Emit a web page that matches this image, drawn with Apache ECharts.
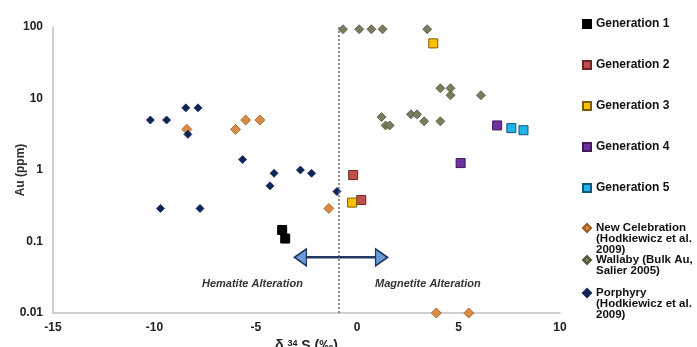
<!DOCTYPE html>
<html lang="en">
  <head>
    <meta charset="UTF-8" />
    <title>Au vs d34S</title>
    <script src="https://cdn.jsdelivr.net/npm/echarts@6/dist/echarts.min.js"></script>
    <style>
      body { margin: 0; background: #fff; }
    </style>
  </head>
  <body>
    <div id="main" style="width: 697px; height: 347px"></div>
    <script>
      // [d34S, Au ppm]
      const gen1 = [[-3.7, 0.145], [-3.55, 0.11]];
      const gen2 = [[-0.2, 0.85], [0.2, 0.38]];
      const gen3 = [[3.75, 59], [-0.25, 0.35]];
      const gen4 = [[6.9, 4.2], [5.1, 1.25]];
      const gen5 = [[7.6, 3.85], [8.2, 3.6]];
      const newCelebration = [[-8.4, 3.7], [-6.0, 3.7], [-5.5, 5.0], [-4.8, 5.0], [-1.4, 0.29], [3.9, 0.01], [5.5, 0.01]];
      const wallaby = [
        [-0.7, 93], [0.1, 93], [0.7, 93], [1.25, 93], [3.45, 93],
        [4.1, 13.9], [4.6, 13.9], [4.6, 11.1], [6.1, 11.1],
        [1.2, 5.5], [1.4, 4.2], [1.6, 4.2], [2.65, 6.0], [2.95, 6.0], [3.3, 4.8], [4.1, 4.8]
      ];
      const porphyry = [
        [-10.2, 5.0], [-9.4, 5.0], [-8.45, 7.4], [-7.85, 7.4], [-8.35, 3.15],
        [-5.65, 1.4], [-4.1, 0.9], [-2.8, 1.0], [-2.25, 0.9], [-4.3, 0.6],
        [-1.0, 0.5], [-9.7, 0.29], [-7.75, 0.29]
      ];
      const boundaryX = -0.9;
      const arrowEnds = [[-2.8, 0.06], [1.2, 0.06]];
      const xTicks = { min: -15, max: 10, interval: 5 };
      const yTicks = { min: 0.01, max: 100 };

      const font = 'Liberation Sans, Arial, sans-serif';
      const chart = echarts.init(document.getElementById('main'));

      function sq(name, data, color, border) {
        return {
          name: name, type: 'scatter', data: data,
          symbol: 'rect', symbolSize: 9,
          itemStyle: { color: color, borderColor: border, borderWidth: 1, opacity: 1 },
          z: 4
        };
      }
      function dia(name, data, color, size, border) {
        return {
          name: name, type: 'scatter', data: data,
          symbol: 'diamond', symbolSize: size,
          itemStyle: { color: color, borderColor: border, borderWidth: 0.8, opacity: 1 },
          z: 3
        };
      }

      const legendText = { fontFamily: font, fontWeight: 'bold', fontSize: 12, color: '#111', lineHeight: 14 };
      // one legend per multi-line entry; leading blank lines keep the marker on the first line
      function soloLegend(name, label, top) {
        return {
          data: [name],
          formatter: function () { return label; },
          orient: 'vertical', left: 582, top: top, padding: 0,
          itemWidth: 8, itemHeight: 8,
          textStyle: Object.assign({}, legendText, { fontSize: 11.5, lineHeight: 11 })
        };
      }

      const option = {
        animation: false,
        grid: { left: 53, right: 137, top: 27, bottom: 34, outerBoundsMode: 'none' },
        xAxis: {
          type: 'value',
          min: xTicks.min, max: xTicks.max, interval: xTicks.interval,
          axisLine: { onZero: false, lineStyle: { color: '#bfbfbf', width: 1.5 } },
          axisTick: { show: false },
          splitLine: { show: false },
          axisLabel: { fontFamily: font, fontWeight: 'bold', fontSize: 12, color: '#222', margin: 9 },
          name: '{d|δ }{s|34}{d| S (‰)}',
          nameLocation: 'middle',
          nameGap: 26,
          nameTextStyle: {
            rich: {
              d: { fontFamily: font, fontWeight: 'bold', fontSize: 14, color: '#222' },
              s: { fontFamily: font, fontWeight: 'bold', fontSize: 9, color: '#222', verticalAlign: 'top', padding: [0, 0, 6, 0] }
            }
          }
        },
        yAxis: {
          type: 'log', logBase: 10,
          min: yTicks.min, max: yTicks.max,
          axisLine: { show: true, onZero: false, lineStyle: { color: '#bfbfbf', width: 1.5 } },
          axisTick: { show: false },
          splitLine: { show: false },
          minorSplitLine: { show: false },
          axisLabel: { fontFamily: font, fontWeight: 'bold', fontSize: 12, color: '#222', margin: 10 },
          name: 'Au (ppm)',
          nameLocation: 'middle',
          nameGap: 26,
          nameMoveOverlap: false,
          nameTextStyle: { fontFamily: font, fontWeight: 'bold', fontSize: 12, color: '#333' }
        },
        legend: [
          {
            data: ['Generation 1', 'Generation 2', 'Generation 3', 'Generation 4', 'Generation 5'],
            orient: 'vertical', left: 582, top: 17, padding: 0,
            itemWidth: 8, itemHeight: 8, itemGap: 27,
            textStyle: legendText
          },
          soloLegend('New Celebration (Hodkiewicz et al. 2009)', '\n\nNew Celebration\n(Hodkiewicz et al.\n2009)', 200),
          soloLegend('Wallaby (Bulk Au, Salier 2005)', '\nWallaby (Bulk Au,\nSalier 2005)', 243),
          soloLegend('Porphyry (Hodkiewicz et al. 2009)', '\n\nPorphyry\n(Hodkiewicz et al.\n2009)', 265)
        ],
        graphic: [
          {
            type: 'text', left: 202, top: 278,
            style: { text: 'Hematite Alteration', fontFamily: font, fontStyle: 'italic', fontWeight: 'bold', fontSize: 11, fill: '#333' }
          },
          {
            type: 'text', left: 375, top: 278,
            style: { text: 'Magnetite Alteration', fontFamily: font, fontStyle: 'italic', fontWeight: 'bold', fontSize: 11, fill: '#333' }
          }
        ],
        series: [
          sq('Generation 1', gen1, '#000000', '#000000'),
          sq('Generation 2', gen2, '#c0504d', '#6e2624'),
          sq('Generation 3', gen3, '#ffc000', '#7a5c00'),
          sq('Generation 4', gen4, '#7030a0', '#3d1a58'),
          sq('Generation 5', gen5, '#1fb4ea', '#0d5a78'),
          dia('New Celebration (Hodkiewicz et al. 2009)', newCelebration, '#d98c45', 10, '#9a5a20'),
          dia('Wallaby (Bulk Au, Salier 2005)', wallaby, '#7b7b5e', 9, '#55553f'),
          dia('Porphyry (Hodkiewicz et al. 2009)', porphyry, '#0f2557', 8, '#0f2557'),
          {
            name: 'boundary', type: 'scatter', data: [],
            markLine: {
              silent: true, symbol: 'none', label: { show: false },
              lineStyle: { color: '#6b6b6b', type: [2, 2], width: 1.5 },
              data: [{ xAxis: boundaryX }]
            }
          },
          {
            name: 'arrow', type: 'line', data: arrowEnds,
            lineStyle: { color: '#1f3864', width: 2.5 },
            symbol: 'triangle', symbolSize: [17, 12],
            symbolRotate: function (v, p) { return p.dataIndex === 0 ? 90 : -90; },
            itemStyle: { color: '#6b9bd6', borderColor: '#1f3864', borderWidth: 1.5 },
            z: 5
          }
        ]
      };
      chart.setOption(option);
    </script>
  </body>
</html>
